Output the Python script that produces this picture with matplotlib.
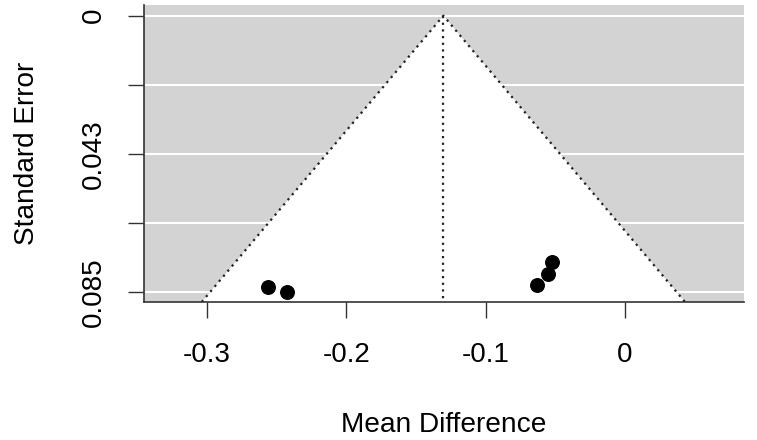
import numpy as np
import matplotlib
matplotlib.use("Agg")
import matplotlib.pyplot as plt

plt.rcParams['font.family'] = ['Liberation Sans', 'DejaVu Sans']

# study estimates
mean_diff = [-0.2565, -0.2429, -0.0632, -0.0555, -0.0522]
std_err = [0.0838, 0.0853, 0.0833, 0.0798, 0.0761]
pooled = -0.1304
se_max = 0.0855

x_ticks = [-0.3, -0.2, -0.1, 0]
x_labels = ["-0.3", "-0.2", "-0.1", "0"]
y_labels = ["0", "", "0.043", "", "0.085"]

xlim = (-0.3453, 0.0854)
ylim = (0.0885, -0.0033)

fig = plt.figure(figsize=(7.57, 4.40), dpi=100)
ax = fig.add_axes([144/757, 1 - 302/440, 600/757, 297/440])

ax.set_facecolor('#d3d3d3')
y_ticks = np.linspace(0, se_max, 5)

# white grid lines
for yt in y_ticks:
    ax.axhline(yt, color='white', lw=1.5, zorder=1)

# funnel (95% pseudo confidence region)
yb = ylim[0]
half = 1.96 * yb
ax.fill([pooled - half, pooled, pooled + half], [yb, 0, yb],
        color='white', zorder=2, lw=0)
ax.plot([pooled - half, pooled, pooled + half], [yb, 0, yb],
        color='#222222', ls=(0, (1, 2)), lw=1.6, zorder=3)
ax.plot([pooled, pooled], [0, yb], color='#222222', ls=(0, (1, 2)),
        lw=1.6, zorder=3)

ax.scatter(mean_diff, std_err, s=95, color='black', zorder=4)

ax.set_xlim(*xlim)
ax.set_ylim(*ylim)

ax.set_xticks(x_ticks)
ax.set_xticklabels(x_labels)
ax.set_yticks(y_ticks)
ax.set_yticklabels(y_labels, rotation=90, va='center')

for s in ['top', 'right']:
    ax.spines[s].set_visible(False)
for s in ['left', 'bottom']:
    ax.spines[s].set_color('#333333')
    ax.spines[s].set_linewidth(1.2)

ax.tick_params(axis='both', length=11.5, width=1.0, color='#333333',
               labelsize=20)
ax.tick_params(axis='x', pad=17)
ax.tick_params(axis='y', pad=15)

ax.set_xlabel("Mean Difference", fontsize=20.2, labelpad=32)
ax.set_ylabel("Standard Error", fontsize=20.2, labelpad=30)

fig.savefig("out.png", dpi=100)
